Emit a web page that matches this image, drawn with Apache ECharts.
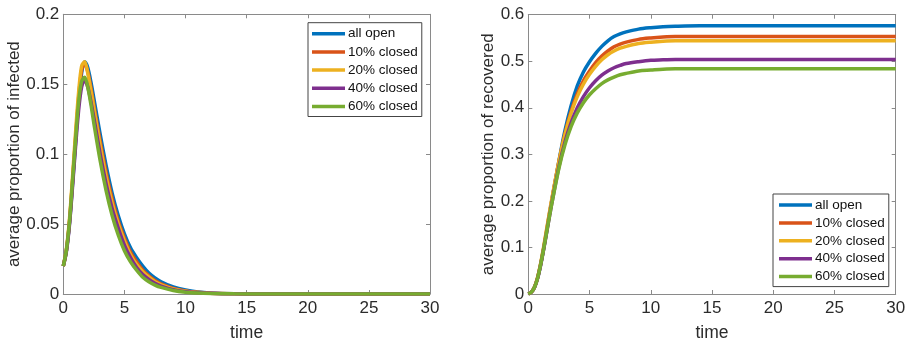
<!DOCTYPE html>
<html>
<head>
<meta charset="utf-8">
<script src="https://cdn.jsdelivr.net/npm/echarts@6/dist/echarts.min.js"></script>
<style>
html,body{margin:0;padding:0;background:#fff;}
#c{width:909px;height:343px;}
</style>
</head>
<body>
<div id="c"></div>
<script>
const seriesNames = ['all open', '10% closed', '20% closed', '40% closed', '60% closed'];
const xTicks = [0, 5, 10, 15, 20, 25, 30];
const infTicks = [0, 0.05, 0.1, 0.15, 0.2];
const recTicks = [0, 0.1, 0.2, 0.3, 0.4, 0.5, 0.6];

const timeInf = [0,0.25,0.5,0.75,1,1.25,1.5,1.75,2,2.25,2.5,3,3.5,4,4.5,5,5.5,6,6.5,7,7.5,8,9,10,11,12,14,16,20,25,30];
const infAllOpen = [0.020,0.031,0.050,0.078,0.108,0.137,0.158,0.166,0.162,0.152,0.140,0.115,0.092,0.072,0.056,0.043,0.033,0.026,0.020,0.015,0.0115,0.0088,0.0050,0.0028,0.0015,0.0008,0.0002,0.00005,0,0,0];
const inf10 = [0.020,0.031,0.051,0.080,0.111,0.140,0.160,0.165,0.159,0.148,0.135,0.110,0.087,0.068,0.052,0.040,0.030,0.023,0.017,0.013,0.0097,0.0073,0.0040,0.0022,0.0012,0.0006,0.00015,0.00004,0,0,0];
const inf20 = [0.020,0.032,0.053,0.083,0.115,0.144,0.163,0.166,0.158,0.146,0.133,0.107,0.084,0.065,0.050,0.038,0.028,0.021,0.016,0.012,0.0088,0.0066,0.0036,0.0020,0.0011,0.0006,0.00015,0.00004,0,0,0];
const inf40 = [0.020,0.030,0.049,0.076,0.105,0.131,0.148,0.153,0.148,0.138,0.126,0.101,0.079,0.061,0.047,0.035,0.026,0.019,0.014,0.0105,0.0077,0.0057,0.0031,0.0017,0.0009,0.0005,0.0001,0.00003,0,0,0];
const inf60 = [0.020,0.031,0.051,0.080,0.110,0.137,0.152,0.155,0.148,0.136,0.122,0.096,0.074,0.056,0.042,0.031,0.023,0.017,0.012,0.0088,0.0064,0.0047,0.0025,0.0013,0.0007,0.0004,0.0001,0.00002,0,0,0];

const timeRec = [0,0.25,0.5,0.75,1,1.25,1.5,1.75,2,2.5,3,3.5,4,4.5,5,5.5,6,6.5,7,7.5,8,9,10,11,12,14,16,20,25,30];
const recAllOpen = [0,0.004,0.014,0.033,0.062,0.097,0.135,0.175,0.213,0.286,0.352,0.405,0.447,0.477,0.499,0.517,0.532,0.544,0.553,0.559,0.563,0.569,0.572,0.574,0.575,0.576,0.576,0.576,0.576,0.576];
const rec10 = [0,0.004,0.014,0.034,0.063,0.098,0.137,0.176,0.213,0.284,0.345,0.393,0.430,0.458,0.479,0.497,0.511,0.522,0.531,0.537,0.541,0.547,0.550,0.552,0.553,0.553,0.553,0.553,0.553,0.553];
const rec20 = [0,0.004,0.015,0.035,0.065,0.101,0.140,0.179,0.216,0.285,0.343,0.389,0.424,0.451,0.472,0.489,0.503,0.514,0.522,0.528,0.532,0.538,0.541,0.543,0.544,0.544,0.544,0.544,0.544,0.544];
const rec40 = [0,0.004,0.014,0.033,0.061,0.095,0.132,0.170,0.206,0.273,0.327,0.368,0.400,0.424,0.443,0.458,0.470,0.479,0.486,0.491,0.495,0.499,0.502,0.503,0.504,0.504,0.504,0.504,0.504,0.504];
const rec60 = [0,0.004,0.014,0.033,0.062,0.096,0.133,0.170,0.205,0.270,0.321,0.360,0.389,0.411,0.428,0.441,0.452,0.460,0.466,0.471,0.474,0.479,0.481,0.483,0.484,0.484,0.484,0.484,0.484,0.484];

const colors = ['#0072BD', '#D95319', '#EDB120', '#7E2F8E', '#77AC30'];
const infSets = [infAllOpen, inf10, inf20, inf40, inf60];
const recSets = [recAllOpen, rec10, rec20, rec40, rec60];

const FONT = 'Liberation Sans, Arial, Helvetica, sans-serif';
const AXIS_COLOR = '#8a8a8a';
const TEXT_COLOR = '#2b2b2b';

function xAx(gi, pos, ticks) {
  const bottom = pos === 'bottom';
  return {
    type: 'value', gridIndex: gi, position: pos,
    min: ticks[0], max: ticks[ticks.length - 1], interval: ticks[1] - ticks[0],
    name: bottom ? 'time' : '', nameLocation: 'middle', nameGap: 30,
    nameTextStyle: { fontFamily: FONT, fontSize: 17.5, color: TEXT_COLOR },
    axisLine: { show: true, onZero: false, lineStyle: { color: AXIS_COLOR, width: 1 } },
    axisTick: { show: true, inside: true, length: 4, lineStyle: { color: AXIS_COLOR } },
    axisLabel: { show: bottom, fontFamily: FONT, fontSize: 17, color: TEXT_COLOR, margin: 6 },
    splitLine: { show: false }
  };
}
function yAx(gi, pos, ticks, name, gap) {
  const left = pos === 'left';
  return {
    type: 'value', gridIndex: gi, position: pos,
    min: ticks[0], max: ticks[ticks.length - 1], interval: ticks[1] - ticks[0],
    name: left ? name : '', nameLocation: 'middle', nameGap: gap,
    nameTextStyle: { fontFamily: FONT, fontSize: 17, color: TEXT_COLOR },
    axisLine: { show: true, onZero: false, lineStyle: { color: AXIS_COLOR, width: 1 } },
    axisTick: { show: true, inside: true, length: 4, lineStyle: { color: AXIS_COLOR } },
    axisLabel: { show: left, fontFamily: FONT, fontSize: 17, color: TEXT_COLOR, margin: 4 },
    splitLine: { show: false }
  };
}

const series = [];
seriesNames.forEach((n, i) => {
  series.push({
    name: n, type: 'line', xAxisIndex: 0, yAxisIndex: 0,
    data: timeInf.map((t, k) => [t, infSets[i][k]]),
    showSymbol: false, smooth: 0.3, color: colors[i],
    lineStyle: { width: 3.5, color: colors[i] }
  });
});
seriesNames.forEach((n, i) => {
  series.push({
    name: n, type: 'line', xAxisIndex: 2, yAxisIndex: 2,
    data: timeRec.map((t, k) => [t, recSets[i][k]]),
    showSymbol: false, smooth: 0.3, color: colors[i],
    lineStyle: { width: 3.5, color: colors[i] }
  });
});

function legend(left, top, gap, pad) {
  return {
    data: seriesNames, left: left, top: top, orient: 'vertical',
    icon: 'rect', itemWidth: 33, itemHeight: 3.5, itemGap: gap,
    padding: pad, borderColor: '#444', borderWidth: 1, backgroundColor: '#fff',
    selectedMode: false,
    textStyle: { fontFamily: FONT, fontSize: 13.5, color: '#111', padding: [0,0,0,-2], lineHeight: 14 }
  };
}

const chart = echarts.init(document.getElementById('c'), null, { renderer: 'canvas' });
chart.setOption({
  animation: false,
  backgroundColor: '#fff',
  grid: [
    { left: 63.3, right: 479, top: 14.3, bottom: 49, containLabel: false, outerBoundsMode: 'none' },
    { left: 528.3, right: 13.3, top: 14.7, bottom: 49, containLabel: false, outerBoundsMode: 'none' }
  ],
  xAxis: [xAx(0, 'bottom', xTicks), xAx(0, 'top', xTicks), xAx(1, 'bottom', xTicks), xAx(1, 'top', xTicks)],
  yAxis: [
    yAx(0, 'left', infTicks, 'average proportion of infected', 40), yAx(0, 'right', infTicks, '', 0),
    yAx(1, 'left', recTicks, 'average proportion of recovered', 30), yAx(1, 'right', recTicks, '', 0)
  ],
  legend: [legend(308, 22.7, 4.2, [4, 4, 3, 4]), legend(773, 194, 3.9, [4, 4, 3, 6])],
  series: series
});
</script>
</body>
</html>
